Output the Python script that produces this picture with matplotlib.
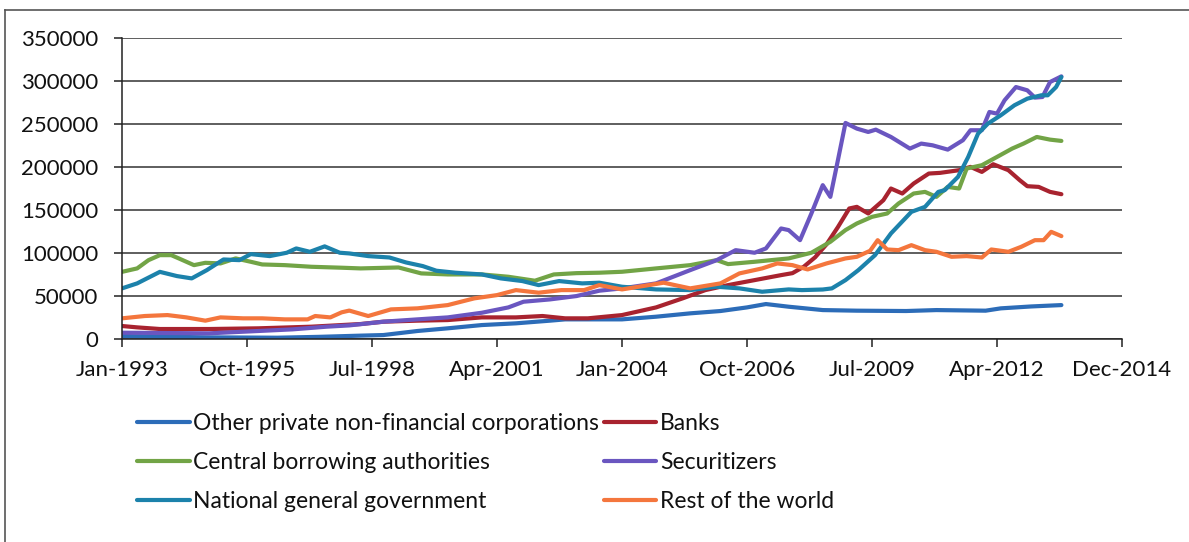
import matplotlib
matplotlib.use("Agg")
import matplotlib.pyplot as plt
from matplotlib.lines import Line2D

# months counted from Jan-1993
tick_months = [0, 33, 66, 99, 132, 165, 198, 231, 264]
tick_labels = ["Jan-1993", "Oct-1995", "Jul-1998", "Apr-2001", "Jan-2004",
               "Oct-2006", "Jul-2009", "Apr-2012", "Dec-2014"]
y_ticks = [0, 50000, 100000, 150000, 200000, 250000, 300000, 350000]

opnfc_months = [0, 12, 23, 41, 52, 63, 69, 78, 86, 95, 104, 113, 117, 126, 132, 141,
                150, 158, 165, 170, 176, 185, 194, 207, 215, 228, 232, 240, 248]
opnfc_values = [3500, 2600, 1900, 1500, 2500, 3900, 4600, 9300, 12400, 16200, 18200,
                21300, 22800, 22800, 22800, 25900, 29800, 32500, 36700, 40600, 37500,
                33600, 32900, 32500, 33600, 32900, 35600, 37800, 39400]

banks_months = [0, 4, 10, 23, 36, 50, 58, 63, 69, 78, 86, 95, 104, 111, 117, 123, 132,
                141, 148, 154, 160, 167, 174, 177, 180, 183, 186, 189, 192, 194, 197,
                201, 203, 206, 209, 213, 216, 221, 224, 227, 230, 234, 237, 239, 242,
                245, 248]
banks_values = [15100, 13500, 11600, 11600, 12400, 14300, 16200, 17400, 20100, 21300,
                22000, 25100, 25100, 26700, 24000, 24000, 27800, 36700, 47200, 56800,
                62600, 68400, 74200, 76500, 84000, 95000, 110000, 130000, 151600, 153500,
                145800, 161200, 174800, 169000, 180600, 192200, 193000, 196100, 199900,
                194100, 203000, 196100, 184500, 177500, 176700, 170900, 168200]

cba_months = [0, 4, 7, 10, 13, 15, 19, 22, 26, 30, 34, 37, 43, 50, 58, 63, 73, 79, 86,
              95, 102, 109, 114, 120, 126, 132, 141, 150, 157, 160, 167, 176, 182, 187,
              191, 194, 198, 202, 205, 209, 212, 215, 218, 221, 223, 227, 231, 235, 238,
              241.5, 245, 248]
cba_values = [78000, 82000, 91600, 97400, 97400, 93600, 85800, 88500, 87800, 93600,
              89700, 86600, 85800, 83900, 82800, 82000, 83100, 76200, 75000, 75000,
              72300, 67700, 75000, 76500, 77000, 78100, 82000, 85800, 91600, 87000,
              89700, 93600, 100200, 112900, 126500, 134200, 141900, 145800, 157400,
              169000, 170900, 165100, 176700, 174800, 198000, 201900, 211500, 221200,
              227000, 234700, 231600, 230100]

sec_months = [0, 23, 36, 45, 54, 60, 69, 78, 86, 95, 102, 106, 113, 120, 126, 132, 141,
              150, 157, 162, 167, 170, 174, 176, 179, 182, 185, 187, 189, 191, 194, 197,
              199, 203, 208, 211, 214, 218, 222, 224, 227, 229, 231, 233, 236, 239, 241,
              243, 245, 248]
sec_values = [7300, 6600, 9300, 11200, 14300, 15800, 20100, 22800, 25100, 30500, 36700,
              43300, 46000, 49900, 56100, 58800, 64600, 80000, 91600, 103200, 100200,
              105200, 128400, 126500, 114800, 145800, 178700, 165100, 207700, 251000,
              244400, 240500, 243200, 234700, 221200, 227000, 225000, 220000, 230900,
              242500, 242500, 263700, 261800, 277300, 292700, 288900, 280400, 281100,
              298500, 305100]

ngg_months = [0, 4, 10, 14.5, 18.4, 22.4, 26.8, 31, 34, 39, 43.5, 46, 49.6, 53.5, 57.5,
              60, 65, 70.6, 75, 79.4, 83, 88, 95, 100, 105.7, 110, 115.4, 121.5, 126,
              132, 141, 150, 157, 163, 169, 176, 179.5, 185, 187.4, 191, 194.4, 198.8,
              203, 208.4, 212, 215.5, 217.2, 220.7, 223.4, 226, 228.6, 232, 235.6, 239,
              242.7, 244.4, 246.6, 248]
ngg_values = [58800, 64600, 78000, 73100, 70400, 80000, 92400, 91600, 98600, 96300,
              100200, 105200, 101300, 107600, 100200, 99400, 96300, 94700, 88900, 84700,
              79300, 77000, 75000, 70400, 67300, 62600, 67300, 64600, 65400, 60700,
              57600, 56800, 60700, 58800, 54900, 57600, 56800, 57500, 58800, 68400,
              80000, 97400, 122600, 147700, 153500, 170900, 172900, 188300, 211500,
              238600, 250200, 259900, 271500, 279200, 283100, 283100, 292700, 304300]

row_months = [0, 6, 12, 17, 22, 26, 32, 37, 43, 49, 51, 55, 58, 60, 65, 71, 78, 86, 93,
              99, 104, 110, 116, 122, 126, 132, 143, 150, 158, 163, 169, 173, 177, 181,
              186, 191, 194, 197.5, 199.5, 202, 205, 208.4, 212, 215, 219, 223, 227,
              229.5, 234, 237.4, 241, 243.3, 245.3, 248]
row_values = [24000, 26700, 27800, 25100, 21300, 25100, 24000, 24000, 22800, 22800,
              26700, 25100, 31000, 33000, 26700, 34400, 35600, 39400, 47200, 51000,
              56800, 53800, 56800, 56800, 62600, 57600, 65400, 58800, 64600, 76200,
              82000, 87800, 85800, 80800, 87800, 93600, 95500, 102500, 114800, 104000,
              103200, 109000, 103200, 101300, 95500, 96300, 94700, 104000, 101300,
              107100, 114800, 114800, 124500, 119500]

series = [
    ("Other private non-financial corporations", opnfc_months, opnfc_values, "#2c6cb8"),
    ("Banks", banks_months, banks_values, "#a8232f"),
    ("Central borrowing authorities", cba_months, cba_values, "#72a446"),
    ("Securitizers", sec_months, sec_values, "#6a56c0"),
    ("National general government", ngg_months, ngg_values, "#1c82ab"),
    ("Rest of the world", row_months, row_values, "#f4763d"),
]

plt.rcParams['font.family'] = ['Lato', 'DejaVu Sans']

W, H = 1189, 542
fig = plt.figure(figsize=(W / 100, H / 100), dpi=100)
fig.patch.set_facecolor("white")

# chart border (left and top edge visible in the scan)
fig.add_artist(Line2D([5 / W, 5 / W], [0, 1 - 10 / H], color="#555555", lw=1.2))
fig.add_artist(Line2D([5 / W, 1], [1 - 10 / H, 1 - 10 / H], color="#555555", lw=1.2))

ax = fig.add_axes([122 / W, 1 - 339 / H, 1000 / W, (339 - 37.7) / H])

handles = {}
for name, m, v, c in series:
    ln, = ax.plot(m, v, color=c, lw=3.0, solid_capstyle="round", label=name)
    handles[name] = ln

ax.set_xlim(0, 264)
ax.set_ylim(0, 350000)
ax.set_xticks(tick_months)
ax.set_xticklabels(tick_labels)
ax.set_yticks(y_ticks)
ax.set_yticklabels([str(t) for t in y_ticks])
ax.yaxis.grid(True, color="#333333", lw=1.1)
ax.set_axisbelow(True)
for s in ["top", "right"]:
    ax.spines[s].set_visible(False)
for s in ["left", "bottom"]:
    ax.spines[s].set_color("#222222")
    ax.spines[s].set_linewidth(1.1)
ax.tick_params(axis="both", direction="out", length=6, width=1.1, color="#222222",
               labelsize=16, labelcolor="#111111")
ax.tick_params(axis="y", pad=11)
ax.tick_params(axis="x", pad=9)

order = ["Other private non-financial corporations", "Central borrowing authorities",
         "National general government", "Banks", "Securitizers", "Rest of the world"]
leg = fig.legend([handles[n] for n in order], order, ncol=2, loc="upper left",
                 bbox_to_anchor=(137 / W, 1 - 413 / H), frameon=False, fontsize=16.5,
                 handlelength=2.3, handletextpad=0.15, columnspacing=0.2,
                 labelspacing=0.78, borderaxespad=0, borderpad=0)
for t in leg.get_texts():
    t.set_color("#111111")

fig.savefig("out.png", dpi=100, facecolor="white")
